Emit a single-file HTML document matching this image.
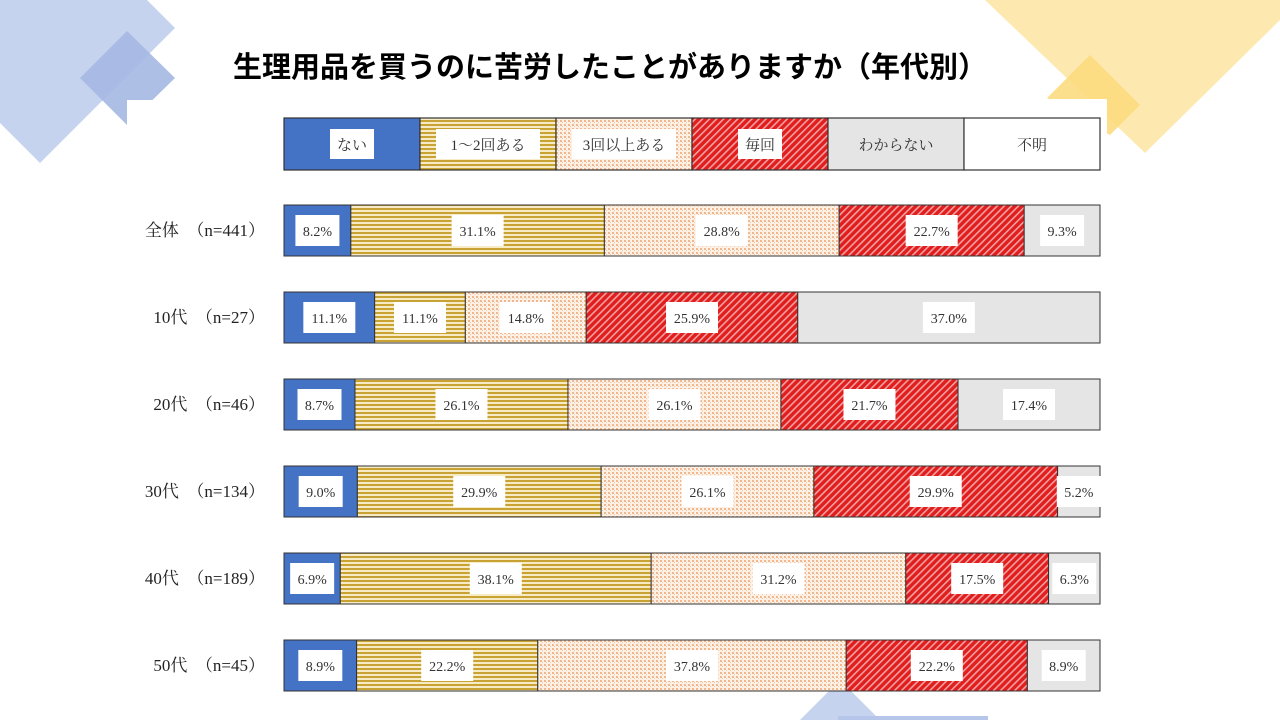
<!DOCTYPE html>
<html><head><meta charset="utf-8"><style>
body{margin:0;width:1280px;height:720px;overflow:hidden;background:#fff}
svg{display:block}
</style></head><body>
<svg id="chart" width="1280" height="720" viewBox="0 0 1280 720" xmlns="http://www.w3.org/2000/svg">
<defs>
<pattern id="p-stripe" width="4" height="4" patternUnits="userSpaceOnUse"><rect width="4" height="4" fill="#f6ebc4"/><rect width="4" height="2" fill="#c9a234"/></pattern>
<pattern id="p-dots" width="4" height="4" patternUnits="userSpaceOnUse"><rect width="4" height="4" fill="#fdf0e4"/><rect width="2" height="2" fill="#f0b890"/><rect x="2" y="2" width="1" height="1" fill="#f3c8a4"/></pattern>
<pattern id="p-hatch" width="5" height="5" patternUnits="userSpaceOnUse" patternTransform="rotate(45)"><rect width="5" height="5" fill="#e01e1e"/><rect width="1.6" height="5" fill="#f4a0a0"/></pattern>
</defs>
<g>
<polygon points="0,0 147,0 175,28 40,163 0,123" fill="#c5d3ee"/>
<polygon points="127,31 175,78 127,125 80,78" fill="#a5b8e2" opacity="0.9"/>
<polygon points="127,100 158,100 127,125" fill="#fff"/>
<polygon points="985,0 1280,0 1280,20 1145,153" fill="#fde9b0"/>
<polygon points="1090,55 1140,105 1110,135 1047,98" fill="#fcdc80" opacity="0.9"/>
<polygon points="1045,99 1107,99 1107,140" fill="#fff"/>
<polygon points="840,680 880,720 800,720" fill="#c5d3ee"/>
<rect x="838" y="716" width="150" height="4" fill="#b6c6ea"/>
</g>
<text x="610" y="77" text-anchor="middle" font-family="'Liberation Sans','Noto Sans CJK JP',sans-serif" font-size="29" font-weight="bold" fill="#000">生理用品を買うのに苦労したことがありますか（年代別）</text>
<g id="legend"></g>
<g id="bars"></g>
</svg>
<script>
const categories=["全体　（n=441）","10代　（n=27）","20代　（n=46）","30代　（n=134）","40代　（n=189）","50代　（n=45）"];
const seriesNames=["ない","1～2回ある","3回以上ある","毎回","わからない","不明"];
const s_nai=[8.2,11.1,8.7,9.0,6.9,8.9];
const s_12=[31.1,11.1,26.1,29.9,38.1,22.2];
const s_3plus=[28.8,14.8,26.1,26.1,31.2,37.8];
const s_every=[22.7,25.9,21.7,29.9,17.5,22.2];
const s_unknown=[9.3,37.0,17.4,5.2,6.3,8.9];
const s_na=[0,0,0,0,0,0];
const series=[s_nai,s_12,s_3plus,s_every,s_unknown,s_na];
const fills=["#4472c4","url(#p-stripe)","url(#p-dots)","url(#p-hatch)","#e6e5e5","#ffffff"];
const NS="http://www.w3.org/2000/svg";
const X0=284,W=816,Y0=205,STEP=87,BH=51;
const font="'Liberation Serif','Noto Serif CJK SC',serif";
function mk(t,a,p){const e=document.createElementNS(NS,t);for(const k in a)e.setAttribute(k,a[k]);p.appendChild(e);return e;}
function xs(v,tot){return v/tot*W;}
function yb(i){return Y0+i*STEP;}
const lg=document.getElementById('legend');
const lw=W/seriesNames.length;
seriesNames.forEach((n,i)=>{
  const r=mk('rect',{x:X0+i*lw,y:118,width:lw,height:52,fill:fills[i],stroke:'#333','stroke-width':1.2},lg);
  
  
  const tw=n.length*15+14;
  if(i<4){mk('rect',{x:X0+i*lw+lw/2-tw/2,y:129,width:tw,height:30,fill:'#fff'},lg);}
  const t=mk('text',{x:X0+i*lw+lw/2,y:150,'text-anchor':'middle','font-family':font,'font-size':15,fill:'#333'},lg);
  t.textContent=n;
  
  
});
const bg=document.getElementById('bars');
categories.forEach((c,i)=>{
  const y=yb(i);
  const tot=series.reduce((s,a)=>s+a[i],0);
  const lab=mk('text',{x:265,y:y+31,'text-anchor':'end','font-family':font,'font-size':17,fill:'#222'},bg);
  lab.textContent=c;
  
  
  let x=X0;
  series.forEach((s,j)=>{
    const w=xs(s[i],tot);
    if(w<=0)return;
    const r=mk('rect',{x:x,y:y,width:w,height:BH,fill:fills[j],stroke:'#333','stroke-width':1},bg);
    
    
    const txt=s[i].toFixed(1)+'%';
    const bw=txt.length*8+12;
    mk('rect',{x:x+w/2-bw/2,y:y+10,width:bw,height:31,fill:'#fff'},bg);
    const t=mk('text',{x:x+w/2,y:y+31,'text-anchor':'middle','font-family':font,'font-size':14,fill:'#333'},bg);
    t.textContent=txt;
    
    
    x+=w;
  });
});
</script>
</body></html>
